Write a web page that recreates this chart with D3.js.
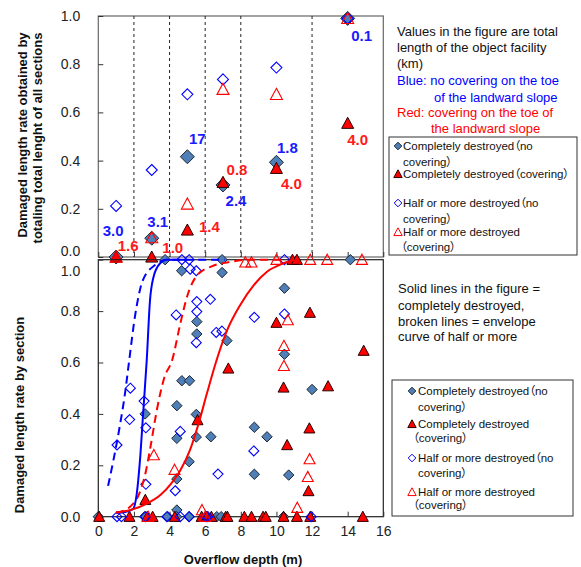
<!DOCTYPE html>
<html>
<head>
<meta charset="utf-8">
<script src="https://cdn.jsdelivr.net/npm/d3@7"></script>
<style>
body { margin: 0; background: #fff; }
svg { display: block; }
text { font-family: "Liberation Sans", Arial, "Noto Sans CJK JP", sans-serif; }
text.leg { font-feature-settings: "palt"; }
</style>
</head>
<body>
<svg id="chart" width="581" height="567"></svg>
<script>
// ---- data ----
// top panel: one point per overflow-depth class
var binX = [1, 3, 5, 7, 10, 14];
var binEdges = [2, 4, 6, 8, 12];
var topCompNo = [0, 0.078, 0.416, 0.299, 0.393, 0.99];
var topCompCov = [0, 0, 0.112, 0.31, 0.368, 0.555];
var topHalfNo = [0.212, 0.361, 0.675, 0.737, 0.786, 0.99];
var topHalfCov = [0, 0.08, 0.22, 0.696, 0.675, 0.99];
var lengthNo = ["3.0", "3.1", "17", "2.4", "1.8", "0.1"];
var lengthCov = ["1.6", "1.0", "1.4", "0.8", "4.0", "4.0"];

// bottom panel: sections [depth, rate]
var compNoPts = [
  [3.75, 1], [6.95, 1], [14.15, 1], [4.68, 0.957], [6.95, 0.95],
  [5.53, 0.759], [5.53, 0.711], [7.22, 0.685], [10.45, 0.889], [10.45, 0.632],
  [12.0, 0.495], [4.69, 0.529], [5.12, 0.529], [2.63, 0.40], [4.41, 0.432],
  [5.5, 0.398], [4.41, 0.305], [5.5, 0.31], [6.32, 0.311], [8.76, 0.348],
  [9.47, 0.311], [5.1, 0.214], [4.41, 0.147], [8.76, 0.165], [10.69, 0.162],
  [4.41, 0.026], [0, 0], [2.6, 0], [3.9, 0], [4.4, 0], [5.1, 0], [6.65, 0],
  [6.9, 0], [10.4, 0]
];
var compCovPts = [
  [10.9, 1], [11.15, 1], [7.3, 0.577], [10.0, 0.755], [11.88, 0.794],
  [14.9, 0.646], [10.4, 0.503], [12.9, 0.508], [5.57, 0.376], [10.6, 0.279],
  [11.85, 0.344], [11.8, 0.10], [2.64, 0.066], [0.05, 0], [1.75, 0], [2.75, 0],
  [3.05, 0], [4.3, 0], [5.8, 0], [6.1, 0], [6.35, 0], [7.15, 0], [7.25, 0],
  [8.2, 0], [8.6, 0], [9.25, 0], [9.4, 0], [10.4, 0], [11.15, 0], [11.9, 0],
  [14.85, 0]
];
var halfNoPts = [
  [4.69, 1], [5.1, 1], [10.45, 1], [5.16, 0.963], [5.5, 0.957],
  [6.29, 0.846], [5.53, 0.837], [5.53, 0.798], [5.5, 0.677], [4.37, 0.785],
  [6.62, 0.717], [6.94, 0.722], [8.76, 0.776], [10.45, 0.789], [1.8, 0.50],
  [2.57, 0.45], [1.76, 0.378], [2.67, 0.346], [4.6, 0.332], [1.05, 0.279],
  [8.73, 0.256], [6.72, 0.166], [2.67, 0.126], [4.32, 0.101], [1.05, 0],
  [1.3, 0], [2.65, 0], [3.85, 0], [4.6, 0], [5.1, 0], [6.05, 0], [6.15, 0],
  [11.95, 0]
];
var halfCovPts = [
  [8.25, 0.99], [8.6, 0.99], [10.0, 1], [11.9, 1], [12.85, 1], [14.8, 1],
  [10.64, 0.765], [10.42, 0.665], [10.42, 0.587], [3.12, 0.24], [11.86, 0.224],
  [4.28, 0.183], [11.76, 0.155], [11.17, 0.035], [5.82, 0.026], [2.8, 0], [6.0, 0]
];

// fitted curves
var blueSolid = [[1.0, 0.015], [1.5, 0.018], [1.95, 0.03], [2.16, 0.09], [2.34, 0.22],
  [2.53, 0.415], [2.72, 0.61], [2.9, 0.84], [3.09, 0.93], [3.47, 0.986], [3.85, 1], [5.0, 1]];
var blueDashed = [[0.55, 0.12], [0.85, 0.22], [1.2, 0.35], [1.5, 0.48], [1.72, 0.6],
  [2.06, 0.78], [2.5, 0.92], [3.2, 0.98], [3.85, 1], [7.1, 1]];
var redSolid = [[1.0, 0.016], [1.8, 0.026], [2.7, 0.05], [3.5, 0.085], [4.1, 0.13],
  [4.6, 0.18], [5.15, 0.26], [5.62, 0.36], [6.1, 0.48], [6.6, 0.6], [7.2, 0.72],
  [7.97, 0.824], [8.72, 0.9], [9.47, 0.953], [10.4, 0.986], [11.0, 1]];
var redDashed = [[1.0, 0.015], [1.8, 0.04], [2.3, 0.09], [2.65, 0.17], [2.95, 0.28],
  [3.3, 0.42], [3.7, 0.54], [4.15, 0.61], [4.6, 0.75], [5.0, 0.86], [5.5, 0.935],
  [6.4, 0.975], [7.3, 0.99], [8.5, 1], [10.5, 1]];

var xTicks = [0, 2, 4, 6, 8, 10, 12, 14, 16];
var yTicks = [0, 0.2, 0.4, 0.6, 0.8, 1.0];

// ---- layout ----
var svg = d3.select("#chart");
var BLUE = "#0000ff", RED = "#ff0000", STEEL = "#4f7fb6";

var x = d3.scaleLinear().domain([0, 16]).range([98.3, 383.3]);
var yTop = d3.scaleLinear().domain([0, 1]).range([257, 16]);
var yBot = d3.scaleLinear().domain([0, 1]).range([516.7, 259.7]);

var diamond = { draw: function (ctx, r) {
  ctx.moveTo(0, -r); ctx.lineTo(r, 0); ctx.lineTo(0, r); ctx.lineTo(-r, 0); ctx.closePath();
} };
var triangle = { draw: function (ctx, r) {
  ctx.moveTo(0, -r); ctx.lineTo(r, r * 0.85); ctx.lineTo(-r, r * 0.85); ctx.closePath();
} };

var styles = {
  compNo: { type: diamond, fill: STEEL, stroke: "#1c2733", sw: 1 },
  compCov: { type: triangle, fill: RED, stroke: "#2a0000", sw: 1 },
  halfNo: { type: diamond, fill: "none", stroke: BLUE, sw: 1.1 },
  halfCov: { type: triangle, fill: "none", stroke: RED, sw: 1.1 }
};

function drawPts(g, pts, yScale, key, r) {
  var s = styles[key];
  g.selectAll(null).data(pts).enter().append("path")
    .attr("transform", function (d) { return "translate(" + x(d[0]) + "," + yScale(d[1]) + ")"; })
    .attr("d", d3.symbol().type(s.type).size(r))
    .attr("fill", s.fill).attr("stroke", s.stroke).attr("stroke-width", s.sw);
}

function styleAxis(g) {
  g.select(".domain").remove();
  g.selectAll(".tick line").attr("stroke", "#333");
  g.selectAll(".tick text").attr("fill", "#222").style("font-size", "14px");
}

// ---- top panel ----
var topG = svg.append("g");
topG.append("rect").attr("x", x(0)).attr("y", yTop(1))
  .attr("width", x(16) - x(0)).attr("height", yTop(0) - yTop(1))
  .attr("fill", "none").attr("stroke", "#666").attr("stroke-width", 1.2);

binEdges.forEach(function (e) {
  topG.append("line").attr("x1", x(e)).attr("x2", x(e)).attr("y1", yTop(1)).attr("y2", yTop(0))
    .attr("stroke", "#222").attr("stroke-width", 1).attr("stroke-dasharray", "3,3");
});

var topLeft = topG.append("g").attr("transform", "translate(" + x(0) + ",0)")
  .call(d3.axisLeft(yTop).tickValues(yTicks).tickSize(-5).tickPadding(18).tickFormat(d3.format(".1f")));
styleAxis(topLeft);
topLeft.selectAll(".tick text").filter(function (d) { return d === 0; }).attr("transform", "translate(0,-6)");

var topBottom = topG.append("g").attr("transform", "translate(0," + yTop(0) + ")")
  .call(d3.axisBottom(x).tickValues(xTicks).tickSize(-5).tickFormat(""));
styleAxis(topBottom);

function zipTop(vals) { return binX.map(function (b, i) { return [b, vals[i]]; }); }
drawPts(topG, zipTop(topCompNo), yTop, "compNo", 7);
drawPts(topG, zipTop(topCompCov), yTop, "compCov", 6);
drawPts(topG, zipTop(topHalfNo), yTop, "halfNo", 5.5);
drawPts(topG, zipTop(topHalfCov), yTop, "halfCov", 6);

var noOff = [[-3, -26], [6, -16], [10, -18], [13, 16], [11, -15], [14, 17]];
var covOff = [[12, -11], [21, -9], [22, -3], [14, -13], [15, 15], [10, 17]];
binX.forEach(function (b, i) {
  topG.append("text").attr("x", x(b) + noOff[i][0]).attr("y", yTop(topCompNo[i]) + noOff[i][1])
    .attr("dy", "0.35em").attr("text-anchor", "middle").attr("fill", "#1a1aff")
    .style("font-size", "15px").style("font-weight", "bold").text(lengthNo[i]);
  topG.append("text").attr("x", x(b) + covOff[i][0]).attr("y", yTop(topCompCov[i]) + covOff[i][1])
    .attr("dy", "0.35em").attr("text-anchor", "middle").attr("fill", "#ff1a1a")
    .style("font-size", "15px").style("font-weight", "bold").text(lengthCov[i]);
});

svg.append("text").attr("transform", "translate(27,135) rotate(-90)")
  .attr("text-anchor", "middle").style("font-size", "13px").style("font-weight", "bold").attr("fill", "#111")
  .text("Damaged length rate obtained by");
svg.append("text").attr("transform", "translate(42,138) rotate(-90)")
  .attr("text-anchor", "middle").style("font-size", "13px").style("font-weight", "bold").attr("fill", "#111")
  .text("totaling total lenght of all sections");

// ---- bottom panel ----
var botG = svg.append("g");
botG.append("rect").attr("x", x(0)).attr("y", yBot(1))
  .attr("width", x(16) - x(0)).attr("height", yBot(0) - yBot(1))
  .attr("fill", "none").attr("stroke", "#222").attr("stroke-width", 1.2);

var botLeft = botG.append("g").attr("transform", "translate(" + x(0) + ",0)")
  .call(d3.axisLeft(yBot).tickValues(yTicks).tickSize(-5).tickPadding(18).tickFormat(d3.format(".1f")));
styleAxis(botLeft);
botLeft.selectAll(".tick text").filter(function (d) { return d === 1; }).attr("transform", "translate(0,11)");

var botBottom = botG.append("g").attr("transform", "translate(0," + yBot(0) + ")")
  .call(d3.axisBottom(x).tickValues(xTicks).tickSize(-5).tickPadding(9));
styleAxis(botBottom);

drawPts(botG, compNoPts, yBot, "compNo", 5.2);
drawPts(botG, compCovPts, yBot, "compCov", 5.5);
drawPts(botG, halfNoPts, yBot, "halfNo", 5);
drawPts(botG, halfCovPts, yBot, "halfCov", 5.5);

var line = d3.line().x(function (d) { return x(d[0]); }).y(function (d) { return yBot(d[1]); })
  .curve(d3.curveMonotoneX);
[[blueDashed, BLUE, "8,5"], [redDashed, RED, "8,5"], [blueSolid, BLUE, null], [redSolid, RED, null]]
  .forEach(function (c) {
    botG.append("path").attr("d", line(c[0])).attr("fill", "none").attr("stroke", c[1])
      .attr("stroke-width", 2).attr("stroke-dasharray", c[2]);
  });

svg.append("text").attr("transform", "translate(24,415) rotate(-90)")
  .attr("text-anchor", "middle").style("font-size", "13px").style("font-weight", "bold").attr("fill", "#111")
  .text("Damaged length rate by section");
svg.append("text").attr("x", 243).attr("y", 564)
  .attr("text-anchor", "middle").style("font-size", "13px").style("font-weight", "bold").attr("fill", "#111")
  .text("Overflow depth (m)");

// ---- notes and legends ----
function note(lines) {
  lines.forEach(function (l) {
    svg.append("text").attr("x", l[1]).attr("y", l[2]).attr("fill", l[3] || "#111")
      .style("font-size", "13px").text(l[0]);
  });
}
note([
  ["Values in the figure are total", 397, 36],
  ["length of the object facility", 397, 52],
  ["(km)", 397, 68],
  ["Blue: no covering on the  toe", 397, 85, BLUE],
  ["of the landward slope", 434, 102, BLUE],
  ["Red: covering on the toe of", 397, 117, RED],
  ["the landward slope", 431, 133, RED],
  ["Solid lines in the figure =", 398, 293],
  ["completely destroyed,", 398, 310],
  ["broken lines = envelope", 398, 326],
  ["curve of half or more", 398, 341]
]);

function legend(box, rows, mx, tx) {
  svg.append("rect").attr("x", box[0]).attr("y", box[1]).attr("width", box[2]).attr("height", box[3])
    .attr("fill", "#fff").attr("stroke", "#333").attr("stroke-width", 1);
  rows.forEach(function (r) {
    if (r.sym) {
      var s = styles[r.sym];
      svg.append("path").attr("transform", "translate(" + mx + "," + r.y + ")")
        .attr("d", d3.symbol().type(s.type).size(s.type === diamond ? 3.8 : 4.2))
        .attr("fill", s.fill).attr("stroke", s.stroke).attr("stroke-width", 1);
    }
    svg.append("text").attr("class", "leg").attr("x", r.x || tx).attr("y", r.y).attr("dy", "0.36em")
      .attr("fill", "#111").style("font-size", "11.5px").text(r.t);
  });
}
legend([389, 137, 188, 118], [
  { sym: "compNo", t: "Completely destroyed（no", y: 146 },
  { t: "covering）", y: 162 },
  { sym: "compCov", t: "Completely destroyed（covering）", y: 174 },
  { sym: "halfNo", t: "Half or more destroyed（no", y: 203 },
  { t: "covering）", y: 219 },
  { sym: "halfCov", t: "Half or more destroyed", y: 232 },
  { t: "（covering）", y: 247, x: 401 }
], 398, 403);
legend([392, 380, 181, 136], [
  { sym: "compNo", t: "Completely destroyed（no", y: 391 },
  { t: "covering）", y: 407 },
  { sym: "compCov", t: "Completely destroyed", y: 424 },
  { t: "（covering）", y: 438, x: 413 },
  { sym: "halfNo", t: "Half or more destroyed（no", y: 458 },
  { t: "covering）", y: 473 },
  { sym: "halfCov", t: "Half or more destroyed", y: 492 },
  { t: "（covering）", y: 505, x: 413 }
], 412, 418);
</script>
</body>
</html>
